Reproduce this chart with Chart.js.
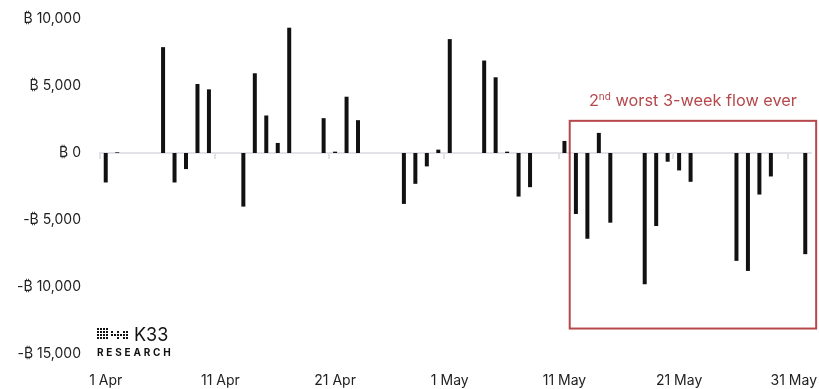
<!DOCTYPE html>
<html>
<head>
<meta charset="utf-8">
<script src="https://cdn.jsdelivr.net/npm/chart.js@4/dist/chart.umd.min.js"></script>
<style>
html,body{margin:0;padding:0;background:#fff;}
#wrap{width:819px;height:389px;position:relative;}
</style>
</head>
<body>
<div id="wrap"><canvas id="c" width="819" height="389"></canvas></div>
<script>
const dates = [
 "1 Apr","2 Apr","3 Apr","4 Apr","5 Apr","6 Apr","7 Apr","8 Apr","9 Apr","10 Apr",
 "11 Apr","12 Apr","13 Apr","14 Apr","15 Apr","16 Apr","17 Apr","18 Apr","19 Apr","20 Apr",
 "21 Apr","22 Apr","23 Apr","24 Apr","25 Apr","26 Apr","27 Apr","28 Apr","29 Apr","30 Apr",
 "1 May","2 May","3 May","4 May","5 May","6 May","7 May","8 May","9 May","10 May",
 "11 May","12 May","13 May","14 May","15 May","16 May","17 May","18 May","19 May","20 May",
 "21 May","22 May","23 May","24 May","25 May","26 May","27 May","28 May","29 May","30 May",
 "31 May","1 Jun"
];
const flows = [
 -2200, 50, 0, 0, 0, 7900, -2200, -1200, 5150, 4750,
 0, 0, -4000, 5950, 2800, 750, 9350, 0, 0, 2600,
 100, 4200, 2450, 0, 0, 0, -3800, -2300, -1000, 250,
 8500, 0, 0, 6900, 5650, 100, -3250, -2550, 0, 0,
 900, -4550, -6400, 1500, -5200, 0, 0, -9800, -5450, -650,
 -1300, -2150, 0, 0, 0, -8050, -8800, -3100, -1750, 0,
 0, -7550
];
const yTicks = [10000, 5000, 0, -5000, -10000, -15000];
const annotationText = ["2", "nd", " worst 3-week flow ever"];
const boxRange = { x0: 40.46, x1: 61.95, y0: 2400, y1: -13100 };

const FONT = "Inter, 'Noto Sans', 'DejaVu Sans', sans-serif";
const RED = '#b5484b';
const AXIS = '#e2e3e8';

function fmt(v){
  if (v === 0) return '\u20BF 0';
  const s = Math.abs(v).toLocaleString('en-US');
  return (v < 0 ? '-' : '') + '\u20BF ' + s;
}

const overlay = {
  id: 'overlay',
  afterDraw(chart){
    const ctx = chart.ctx, x = chart.scales.x, y = chart.scales.y;
    const l = x.getPixelForValue(boxRange.x0), r = x.getPixelForValue(boxRange.x1);
    const t = y.getPixelForValue(boxRange.y0), b = y.getPixelForValue(boxRange.y1);
    ctx.save();
    ctx.strokeStyle = RED; ctx.lineWidth = 2;
    ctx.strokeRect(l, t, r - l, b - t);
    ctx.fillStyle = RED; ctx.textBaseline = 'alphabetic';
    const big = '16.3px ' + FONT, small = '10px ' + FONT;
    ctx.font = big; const w1 = ctx.measureText(annotationText[0]).width;
    const w3 = ctx.measureText(annotationText[2]).width;
    ctx.font = small; const w2 = ctx.measureText(annotationText[1]).width;
    const total = w1 + w2 + w3;
    let cx = (l + r) / 2 - total / 2;
    const base = t - 15;
    ctx.font = big; ctx.textAlign = 'left';
    ctx.fillText(annotationText[0], cx, base); cx += w1;
    ctx.font = small; ctx.fillText(annotationText[1], cx, base - 6); cx += w2;
    ctx.font = big; ctx.fillText(annotationText[2], cx, base);
    // logo
    ctx.fillStyle = '#111';
    const ox = 97, oy = 328;
    for (let c = 0; c < 4; c++) for (let rr = 0; rr < 4; rr++) ctx.fillRect(ox + c*3, oy + rr*3, 2, 2);
    const extra = [[14,3],[14,6],[17,6],[20,3],[20,6],[20,9],[23,6],[26,3],[26,6],[26,9],[29,6],[29,3],[29,9]];
    extra.forEach(p => ctx.fillRect(ox + p[0], oy + p[1], 2, 2));
    ctx.font = '18px ' + FONT; ctx.textBaseline = 'alphabetic';
    ctx.fillText('K33', 134, 341);
    ctx.font = 'bold 10px ' + FONT;
    let lx = 97; const word = 'RESEARCH';
    for (const ch of word){ ctx.fillText(ch, lx, 356); lx += ctx.measureText(ch).width + 2.8; }
    ctx.restore();
  }
};

new Chart(document.getElementById('c'), {
  type: 'bar',
  data: {
    labels: dates,
    datasets: [{
      data: flows,
      backgroundColor: '#111',
      borderWidth: 0,
      inflateAmount: 0,
      barThickness: 4,
      xAxisID: 'x',
      yAxisID: 'y'
    }]
  },
  options: {
    responsive: false,
    animation: false,
    layout: { padding: { top: 19, right: 8, bottom: 0, left: 0 } },
    plugins: { legend: { display: false }, tooltip: { enabled: false } },
    scales: {
      x: {
        type: 'category',
        offset: true,
        afterFit: (s) => { s.height = 35; s.paddingLeft = 0; s.paddingRight = 0; s.paddingTop = 0; s.paddingBottom = 0; },
        grid: { display: false, drawTicks: false },
        border: { display: false },
        ticks: {
          autoSkip: false, maxRotation: 0, padding: 18,
          color: '#222', font: { family: FONT, size: 14 },
          callback: function(v, i){ return i % 10 === 0 ? dates[i] : ''; }
        }
      },
      x2: {
        type: 'category',
        position: { y: 0 },
        offset: true,
        afterFit: (s) => { s.height = 0; s.paddingLeft = 0; s.paddingRight = 0; s.paddingTop = 0; s.paddingBottom = 0; },
        grid: {
          offset: true, drawOnChartArea: false, drawTicks: true, tickLength: 5, lineWidth: 2,
          tickColor: (c) => (c.index % 10 === 0 ? AXIS : 'rgba(0,0,0,0)'),
          color: (c) => (c.index % 10 === 0 ? AXIS : 'rgba(0,0,0,0)')
        },
        border: { display: true, color: AXIS, width: 2 },
        ticks: { display: false }
      },
      y: {
        min: -15000, max: 10000,
        afterBuildTicks: (s) => { s.ticks = yTicks.map(v => ({ value: v })); },
        afterFit: (s) => { s.width = 100; s.paddingTop = 0; s.paddingBottom = 0; },
        grid: { display: false, drawTicks: false },
        border: { display: false },
        ticks: {
          padding: 19, color: '#222', font: { family: FONT, size: 14 },
          callback: (v) => fmt(v)
        }
      }
    }
  },
  plugins: [overlay]
});
</script>
</body>
</html>
